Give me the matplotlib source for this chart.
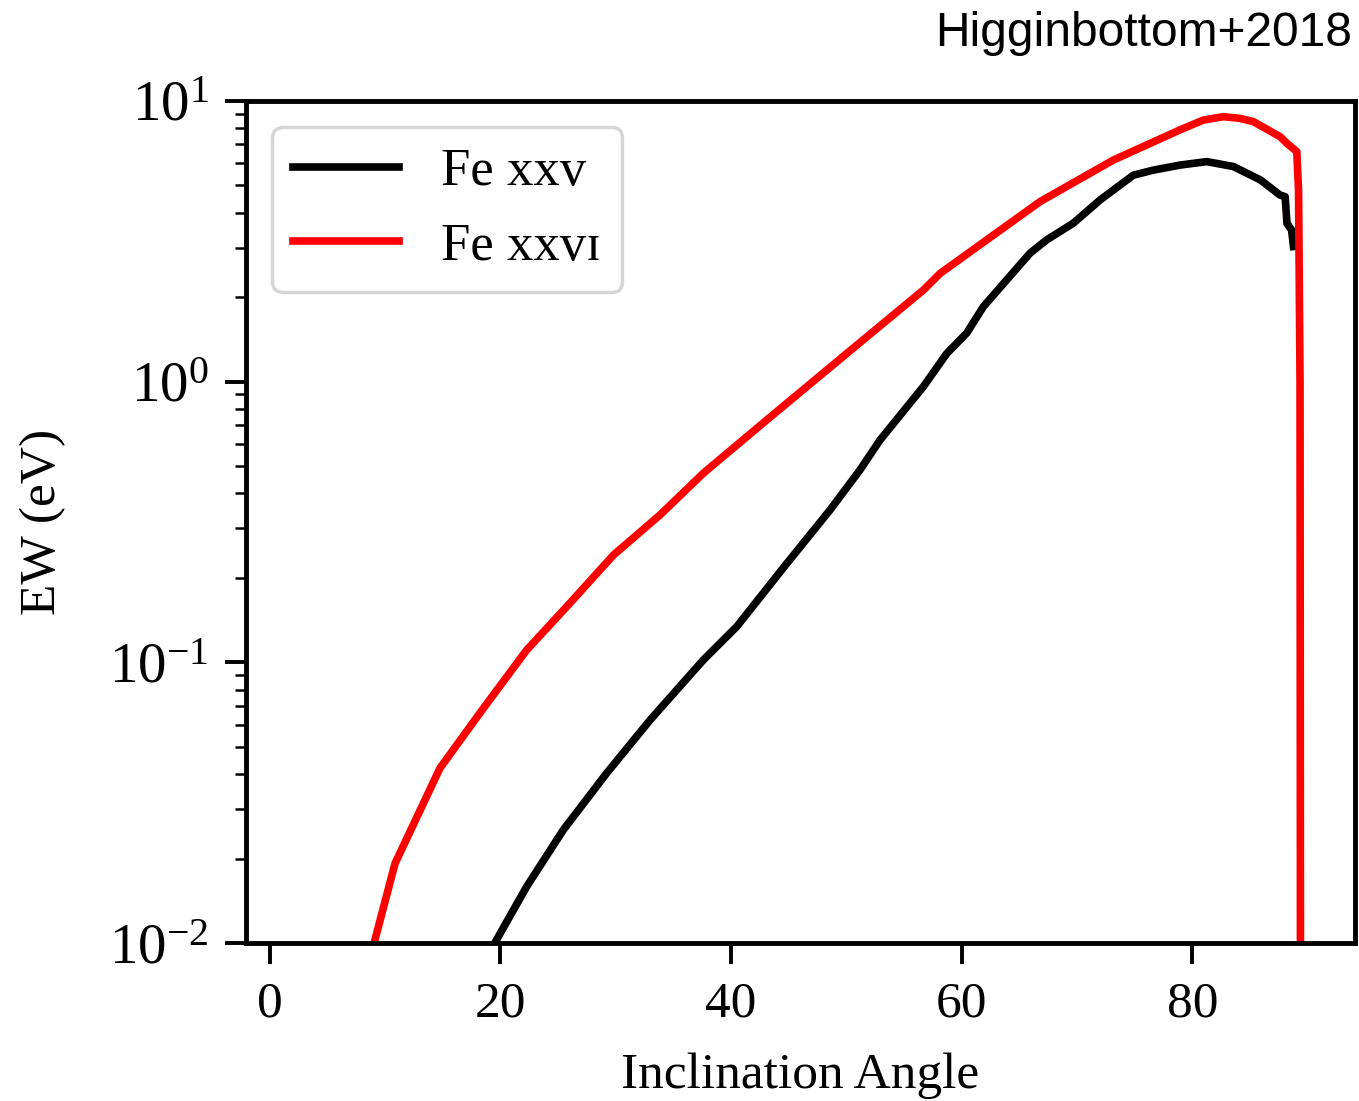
import numpy as np
import matplotlib.pyplot as plt

plt.rcParams['font.family'] = ['Liberation Serif', 'DejaVu Serif']
plt.rcParams['mathtext.fontset'] = 'stix'

# Fe XXV equivalent width vs inclination
x_fe25 = [19.7, 22.3, 25.47, 29.23, 32.99, 37.61, 40.5, 44.84, 48.59, 51.19,
          52.93, 56.68, 58.71, 60.44, 61.88, 65.93, 67.37, 69.68, 72.0, 74.88,
          76.62, 78.93, 81.25, 83.55, 85.9, 87.6, 88.04, 88.2, 88.6, 88.76]
ew_fe25 = [0.0103, 0.0159, 0.0253, 0.0403, 0.0623, 0.102, 0.134, 0.225, 0.349, 0.485,
           0.620, 0.960, 1.26, 1.49, 1.85, 2.87, 3.20, 3.67, 4.44, 5.44,
           5.67, 5.91, 6.08, 5.84, 5.23, 4.62, 4.56, 3.66, 3.47, 3.03]

# Fe XXVI equivalent width vs inclination
x_fe26 = [9.15, 10.88, 14.78, 18.54, 22.3, 25.77, 29.81, 33.85, 37.61, 43.1,
          50.04, 56.68, 58.13, 62.18, 66.8, 73.15, 78.93, 80.95, 82.69, 84.13,
          85.29, 87.6, 88.2, 89.05, 89.2, 89.33, 89.4]
ew_fe26 = [0.0103, 0.0192, 0.042, 0.0686, 0.1107, 0.158, 0.241, 0.335, 0.472, 0.73,
           1.26, 2.12, 2.43, 3.20, 4.38, 6.16, 7.89, 8.55, 8.79, 8.67,
           8.44, 7.46, 7.06, 6.60, 4.82, 1.0, 1e-4]

labels = ['Fe xxv', 'Fe xxv\u026a']

fig = plt.figure(figsize=(13.59, 11.01), dpi=100)
ax = fig.add_axes([0.1810, 0.1435, 0.8161, 0.7648])

ax.plot(x_fe25, ew_fe25, color='black', lw=5.5, label=labels[0])
ax.plot(x_fe26, ew_fe26, color='red', lw=5.5, label=labels[1])

ax.set_yscale('log')
ax.set_xlim(-2.04, 94.1)
ax.set_ylim(1e-2, 1e1)
ax.set_xticks([0, 20, 40, 60, 80])

ax.set_xlabel('Inclination Angle', fontsize=37, labelpad=18)
ax.set_ylabel('EW (eV)', fontsize=37, labelpad=31)

ax.tick_params(which='major', length=15, width=2.8, pad=12)
ax.tick_params(axis='x', labelsize=37)
ax.tick_params(axis='y', labelsize=41)
ax.tick_params(which='minor', length=8, width=1.8)
for s in ax.spines.values():
    s.set_linewidth(3.5)

leg = ax.legend(loc='upper left', fontsize=38, borderaxespad=0.5)
leg.get_frame().set_linewidth(2.5)

fig.text(0.995, 0.958, 'Higginbottom+2018', ha='right', va='baseline',
         fontsize=34.5, family='Liberation Sans')

fig.savefig('out.png', dpi=100)
